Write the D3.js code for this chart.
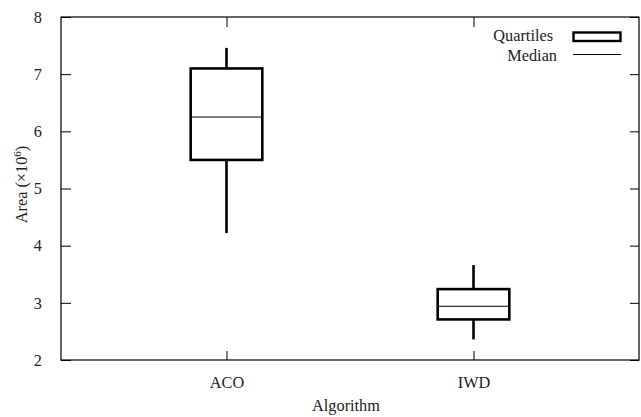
<!DOCTYPE html>
<html>
<head>
<meta charset="utf-8">
<script src="https://cdn.jsdelivr.net/npm/d3@7"></script>
<style>
	body { margin: 0; background: #fff; }
</style>
</head>
<body>
<svg id="chart" width="641" height="417"></svg>
<script>
	// values (units of 10^6)
	var algorithms = ['ACO', 'IWD'];
	var whisker_low = [4.22, 2.36];
	var quartile_low = [5.50, 2.71];
	var medians = [6.25, 2.94];
	var quartile_high = [7.10, 3.24];
	var whisker_high = [7.46, 3.66];
	var y_ticks = [2, 3, 4, 5, 6, 7, 8];

	var font = 'Liberation Serif, Times New Roman, serif';
	var font_size = 16.3;
	var margin = { top: 17, right: 2, bottom: 57, left: 61 };
	var width = 641 - margin.left - margin.right;
	var height = 417 - margin.top - margin.bottom;
	var box_width = 0.29;

	var svg = d3.select('#chart')
		.attr('font-family', font)
		.attr('font-size', font_size);
	var g = svg.append('g').attr('transform', 'translate(' + margin.left + ',' + margin.top + ')');

	var x = d3.scaleLinear().domain([0.33, 2.67]).range([0, width]);
	var y = d3.scaleLinear().domain([2, 8]).range([height, 0]);

	// axes, ticks pointing inward, mirrored on top and right
	var x_ticks = algorithms.map(function (d, i) { return i + 1; });

	g.append('g')
		.attr('transform', 'translate(0,' + height + ')')
		.call(d3.axisBottom(x).tickValues(x_ticks).tickSizeInner(-9).tickSizeOuter(0).tickPadding(16)
			.tickFormat(function (d) { return algorithms[d - 1]; }));
	g.append('g')
		.call(d3.axisTop(x).tickValues(x_ticks).tickSizeInner(-10).tickSizeOuter(0).tickFormat(''));
	g.append('g')
		.call(d3.axisLeft(y).tickValues(y_ticks).tickSizeInner(-10).tickSizeOuter(0).tickPadding(19)
			.tickFormat(d3.format('d')));
	g.append('g')
		.attr('transform', 'translate(' + width + ',0)')
		.call(d3.axisRight(y).tickValues(y_ticks).tickSizeInner(-9).tickSizeOuter(0).tickFormat(''));

	// d3 puts sans-serif 10px on each axis group, take it back
	g.selectAll('g').attr('font-family', font).attr('font-size', font_size);
	g.selectAll('.domain').remove();
	g.selectAll('.tick line').attr('stroke', '#000').attr('stroke-width', 1);
	g.selectAll('.tick text').attr('fill', '#222');

	// frame
	g.append('rect')
		.attr('width', width).attr('height', height)
		.attr('fill', 'none').attr('stroke', '#000').attr('stroke-width', 1.2);

	// boxes
	var boxes = g.selectAll('.box').data(algorithms).enter().append('g').attr('class', 'box');

	boxes.append('line')
		.attr('x1', function (d, i) { return x(i + 1); })
		.attr('x2', function (d, i) { return x(i + 1); })
		.attr('y1', function (d, i) { return y(quartile_high[i]); })
		.attr('y2', function (d, i) { return y(whisker_high[i]); })
		.attr('stroke', '#000').attr('stroke-width', 2.6);
	boxes.append('line')
		.attr('x1', function (d, i) { return x(i + 1); })
		.attr('x2', function (d, i) { return x(i + 1); })
		.attr('y1', function (d, i) { return y(quartile_low[i]); })
		.attr('y2', function (d, i) { return y(whisker_low[i]); })
		.attr('stroke', '#000').attr('stroke-width', 2.6);
	boxes.append('rect')
		.attr('x', function (d, i) { return x(i + 1 - box_width / 2); })
		.attr('width', x(1 + box_width) - x(1))
		.attr('y', function (d, i) { return y(quartile_high[i]); })
		.attr('height', function (d, i) { return y(quartile_low[i]) - y(quartile_high[i]); })
		.attr('fill', 'none').attr('stroke', '#000').attr('stroke-width', 2.6);
	boxes.append('line')
		.attr('x1', function (d, i) { return x(i + 1 - box_width / 2); })
		.attr('x2', function (d, i) { return x(i + 1 + box_width / 2); })
		.attr('y1', function (d, i) { return y(medians[i]); })
		.attr('y2', function (d, i) { return y(medians[i]); })
		.attr('stroke', '#000').attr('stroke-width', 1);

	// legend
	var legend = svg.append('g').attr('fill', '#222');
	legend.append('text').attr('x', 553).attr('y', 41).attr('text-anchor', 'end').text('Quartiles');
	legend.append('rect').attr('x', 573.5).attr('y', 32.5).attr('width', 47).attr('height', 8.5)
		.attr('fill', 'none').attr('stroke', '#000').attr('stroke-width', 2.4);
	legend.append('text').attr('x', 557).attr('y', 61).attr('text-anchor', 'end').text('Median');
	legend.append('line').attr('x1', 573).attr('x2', 621).attr('y1', 54.5).attr('y2', 54.5)
		.attr('stroke', '#000').attr('stroke-width', 1);

	// axis titles
	svg.append('text')
		.attr('x', margin.left + width / 2 - 4).attr('y', 411)
		.attr('fill', '#222')
		.attr('text-anchor', 'middle').text('Algorithm');

	var y_title = svg.append('text')
		.attr('transform', 'translate(27,' + (margin.top + height / 2 - 4) + ') rotate(-90)')
		.attr('fill', '#222')
		.attr('text-anchor', 'middle');
	y_title.append('tspan').text('Area (\u00d710');
	y_title.append('tspan').attr('dy', -6).attr('font-size', 11).text('6');
	y_title.append('tspan').attr('dy', 6).text(')');
</script>
</body>
</html>
